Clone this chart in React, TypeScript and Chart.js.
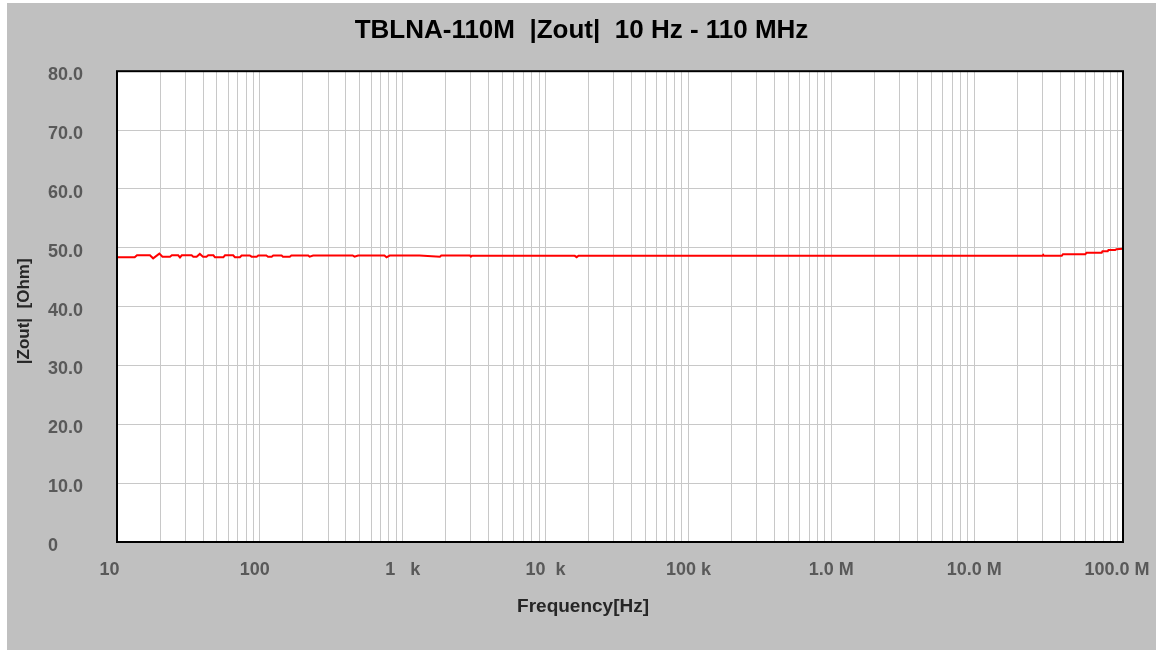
import React, { useEffect, useRef } from "react";
import { Chart, registerables } from "chart.js";

Chart.register(...registerables);

// ---- data ----
const freqHz: number[] = [
  10, 13.3, 13.8, 17.0, 17.9, 19.8, 20.8, 23.5, 24.2, 26.8, 27.6, 28.4, 33.3, 34.2, 36.1, 38.0,
  40.0, 42.3, 43.5, 47.3, 48.5, 55.5, 57.0, 65.0, 66.9, 72.5, 74.5, 85.0, 87.5, 95.0, 97.5, 111,
  114, 121, 124, 142, 145, 162, 166, 218, 223, 236, 446, 460, 487, 745, 770, 810, 1310, 1820,
  1860, 2950, 3000, 3050, 16000, 16500, 17000, 30000000, 30400000, 30800000, 41000000, 41800000,
  60000000, 61000000, 78000000, 79000000, 86000000, 87000000, 97000000, 99000000, 110000000,
];
const zoutOhm: number[] = [
  48.38, 48.38, 48.72, 48.72, 48.2, 49.0, 48.48, 48.48, 48.72, 48.72, 48.35, 48.72, 48.72, 48.48, 48.48, 48.95,
  48.48, 48.48, 48.72, 48.72, 48.38, 48.38, 48.72, 48.72, 48.38, 48.38, 48.68, 48.68, 48.48, 48.48, 48.68, 48.68,
  48.48, 48.48, 48.68, 48.68, 48.48, 48.48, 48.68, 48.68, 48.48, 48.68, 48.68, 48.48, 48.68, 48.68, 48.38, 48.68, 48.68, 48.48,
  48.68, 48.68, 48.5, 48.65, 48.63, 48.4, 48.63, 48.63, 48.8, 48.63, 48.63, 48.9,
  48.9, 49.15, 49.15, 49.4, 49.4, 49.6, 49.6, 49.75, 49.85,
];

const xMin = 10;
const xMax = 110000000;
const xLabelValues: number[] = [10, 100, 1000, 10000, 100000, 1000000, 10000000, 100000000];
const xLabelTexts: string[] = ["10   ", "100  ", "1   k", "10  k", "100 k", "1.0 M", "10.0 M", "100.0 M"];
const yMin = 0;
const yMax = 80;
const yStep = 10;

const titleText = "TBLNA-110M  |Zout|  10 Hz - 110 MHz";
const xTitleText = "Frequency[Hz]" + " ".repeat(14);
const yTitleText = "|Zout|  [Ohm]" + "  ";

const FONT = 'Arial, "Liberation Sans", sans-serif';

function gridValues(): number[] {
  const out: number[] = [];
  for (let d = 10; d < xMax; d *= 10) {
    for (let m = 1; m <= 9; m++) {
      const v = m * d;
      if (v <= xMax) out.push(v);
    }
  }
  return out;
}

const plotFrame = {
  id: "plotFrame",
  beforeDraw(chart: any) {
    const { ctx, chartArea } = chart;
    ctx.save();
    ctx.fillStyle = "#ffffff";
    ctx.fillRect(chartArea.left, chartArea.top, chartArea.right - chartArea.left, chartArea.bottom - chartArea.top);
    ctx.restore();
  },
  afterDraw(chart: any) {
    const { ctx, chartArea } = chart;
    ctx.save();
    ctx.strokeStyle = "#000000";
    ctx.lineWidth = 2;
    ctx.strokeRect(chartArea.left, chartArea.top, chartArea.right - chartArea.left, chartArea.bottom - chartArea.top);
    ctx.restore();
  },
};

export default function App() {
  const ref = useRef<HTMLCanvasElement | null>(null);

  useEffect(() => {
    if (!ref.current) return;
    const chart = new Chart(ref.current, {
      type: "line",
      data: {
        datasets: [
          {
            data: freqHz.map((f, i) => ({ x: f, y: zoutOhm[i] })),
            borderColor: "#ff0000",
            borderWidth: 2,
            pointRadius: 0,
            tension: 0,
            fill: false,
          },
        ],
      },
      options: {
        animation: false,
        responsive: false,
        devicePixelRatio: 1,
        layout: { padding: { left: 0, right: 0, top: 0, bottom: 0 } },
        plugins: {
          legend: { display: false },
          tooltip: { enabled: false },
          title: {
            display: true,
            text: titleText,
            color: "#000000",
            font: { family: FONT, size: 26, weight: "bold" },
            padding: { top: 12, bottom: 25 },
          },
        },
        scales: {
          x: {
            type: "logarithmic",
            min: xMin,
            max: xMax,
            afterBuildTicks: (s: any) => {
              s.ticks = gridValues().map((v) => ({ value: v }));
            },
            afterFit: (s: any) => {
              s.height = 108;
              s.paddingLeft = 0;
              s.paddingRight = 0;
            },
            grid: { color: "#c8c8c8", lineWidth: 1, drawTicks: false },
            border: { display: false },
            ticks: {
              autoSkip: false,
              maxRotation: 0,
              minRotation: 0,
              padding: 17,
              color: "#595959",
              font: { family: FONT, size: 18, weight: "bold" },
              callback: (value: any) => {
                const v = Number(value);
                const idx = xLabelValues.findIndex((t) => Math.abs(t - v) / t < 1e-6);
                return idx >= 0 ? xLabelTexts[idx] : "";
              },
            },
            title: {
              display: true,
              text: xTitleText,
              color: "#262626",
              font: { family: FONT, size: 19, weight: "bold" },
              padding: { top: 0, bottom: 32 },
            },
          },
          y: {
            type: "linear",
            position: "left",
            weight: 0,
            min: yMin,
            max: yMax,
            afterFit: (s: any) => {
              s.width = 69;
            },
            grid: { color: "#c8c8c8", lineWidth: 1, drawTicks: false },
            border: { display: false },
            ticks: {
              stepSize: yStep,
              crossAlign: "far",
              labelOffset: 4,
              color: "#595959",
              font: { family: FONT, size: 18, weight: "bold" },
              callback: (value: any) => {
                const v = Number(value);
                return v === 0 ? "0" : v.toFixed(1);
              },
            },
          },
          yTitle: {
            type: "linear",
            position: "left",
            weight: 1,
            afterFit: (s: any) => {
              s.width = 41;
            },
            grid: { display: false, drawTicks: false },
            border: { display: false },
            ticks: { display: false },
            title: {
              display: true,
              text: yTitleText,
              color: "#262626",
              font: { family: FONT, size: 17, weight: "bold" },
              padding: { top: 7, bottom: 0 },
            },
          },
          yRightSpace: {
            type: "linear",
            position: "right",
            afterFit: (s: any) => {
              s.width = 33;
            },
            grid: { display: false, drawTicks: false },
            border: { display: false },
            ticks: { display: false },
            title: { display: false },
          },
        },
      } as any,
      plugins: [plotFrame],
    });
    return () => chart.destroy();
  }, []);

  return (
    <div
      style={{
        position: "absolute",
        left: 7,
        top: 3,
        width: 1149,
        height: 647,
        background: "#c0c0c0",
      }}
    >
      <canvas ref={ref} width={1149} height={647} style={{ display: "block" }} />
    </div>
  );
}
